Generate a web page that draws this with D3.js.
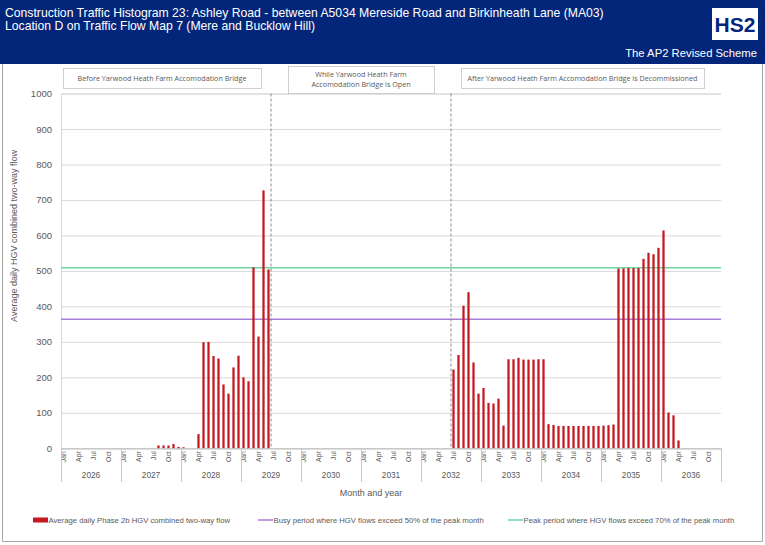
<!DOCTYPE html>
<html>
<head>
<meta charset="utf-8">
<script src="https://cdn.jsdelivr.net/npm/d3@7/dist/d3.min.js"></script>
<style>
  html, body { margin: 0; padding: 0; background: #fff; }
  svg { display: block; }
</style>
</head>
<body>
<svg id="chart" width="765" height="545"></svg>
<script>
// ---------- DATA ----------
const titleLines = [
  "Construction Traffic Histogram 23: Ashley Road - between A5034 Mereside Road and Birkinheath Lane (MA03)",
  "Location D on Traffic Flow Map 7 (Mere and Bucklow Hill)"
];
const subtitle = "The AP2 Revised Scheme";
const years = ["2026","2027","2028","2029","2030","2031","2032","2033","2034","2035","2036"];
const monthNames = ["Jan","Feb","Mar","Apr","May","Jun","Jul","Aug","Sep","Oct","Nov","Dec"];
const monthTickLabels = ["Jan","Apr","Jul","Oct"];
const yTicks = [0,100,200,300,400,500,600,700,800,900,1000];

// Average daily Phase 2b HGV combined two-way flow, one row per year (Jan..Dec)
const flow2026 = [0,0,0,0,0,0,0,0,0,0,0,0];
const flow2027 = [0,0,0,0,0,0,0,8,8,8,12,4];
const flow2028 = [3,0,0,40,299,300,260,253,180,154,228,261];
const flow2029 = [200,189,510,315,727,504,0,0,0,0,0,0];
const flow2030 = [0,0,0,0,0,0,0,0,0,0,0,0];
const flow2031 = [0,0,0,0,0,0,0,0,0,0,0,0];
const flow2032 = [0,0,0,0,0,0,222,263,402,440,242,154];
const flow2033 = [170,128,126,140,64,251,251,255,250,250,250,251];
const flow2034 = [251,68,66,63,63,63,63,63,63,63,63,63];
const flow2035 = [64,65,67,507,507,508,508,508,534,551,547,565];
const flow2036 = [614,101,93,22,0,0,0,0,0,0,0,0];
const flowByYear = [flow2026,flow2027,flow2028,flow2029,flow2030,flow2031,flow2032,flow2033,flow2034,flow2035,flow2036];

const busyLevel = 363.5;   // 50% of peak month
const peakLevel = 508.9;   // 70% of peak month

// phase dividers (month category at which each new phase starts)
const phaseStarts = [{year:"2029", month:"Jul"}, {year:"2032", month:"Jul"}];
const phaseLabels = [
  ["Before Yarwood Heath Farm Accomodation Bridge"],
  ["While Yarwood Heath Farm", "Accomodation Bridge is Open"],
  ["After Yarwood Heath Farm Accomodation Bridge is Decommissioned"]
];
const legendItems = [
  {label: "Average daily Phase 2b HGV combined two-way flow", type: "bar"},
  {label: "Busy period where HGV flows exceed 50% of the peak month", type: "busy"},
  {label: "Peak period where HGV flows exceed 70% of the peak month", type: "peak"}
];

// ---------- BUILD TABLE ----------
const rows = [];
years.forEach((y, yi) => monthNames.forEach((m, mi) => {
  rows.push({key: y + "-" + m, year: y, month: m, value: flowByYear[yi][mi]});
}));

// ---------- STYLE / LAYOUT ----------
const navy = "#04267a";
const barColor = "#c41920";
const busyColor = "#a67dd8";
const peakColor = "#6fd3a2";
const gridColor = "#d9d9d9";
const textGray = "#595959";
const font = "'Liberation Sans', Arial, sans-serif";
const boxFont = "'Open Sans', 'Noto Sans', sans-serif";

const svg = d3.select("#chart");
const plot = {left: 61, right: 721, top: 93.5, bottom: 448.3};

// header
svg.append("rect").attr("x",0).attr("y",0).attr("width",765).attr("height",64).attr("fill",navy);
svg.selectAll("text.title").data(titleLines).enter().append("text")
  .attr("class","title").attr("x",5).attr("y",(d,i)=>17 + i*13)
  .attr("fill","#fff").attr("font-family",font).attr("font-size",12.2).text(d=>d);
svg.append("text").attr("x",757).attr("y",57).attr("text-anchor","end")
  .attr("fill","#fff").attr("font-family",font).attr("font-size",11.3).text(subtitle);
svg.append("rect").attr("x",712).attr("y",8).attr("width",46).attr("height",32).attr("fill","#fff");
svg.append("text").attr("x",735).attr("y",32).attr("text-anchor","middle")
  .attr("fill",navy).attr("font-family",font).attr("font-weight","bold").attr("font-size",21).text("HS2");

// outer frame
svg.append("path").attr("d","M2.5,64 V541.5 H762.5 V64").attr("fill","none").attr("stroke","#a6a6a6").attr("stroke-width",1);

// scales
const x = d3.scaleBand().domain(rows.map(d=>d.key)).range([plot.left, plot.right]).paddingInner(0.55).paddingOuter(0.275);
const xStep = x.step();
const y = d3.scaleLinear().domain([0,1000]).range([plot.bottom, plot.top]);

// gridlines + y axis
const yAxis = d3.axisLeft(y).tickValues(yTicks).tickSize(-(plot.right-plot.left)).tickPadding(9).tickFormat(d3.format("d"));
const gy = svg.append("g").attr("transform",`translate(${plot.left},0)`).call(yAxis);
gy.select(".domain").attr("stroke",gridColor);
gy.selectAll(".tick line").attr("stroke",gridColor);
gy.selectAll(".tick text").attr("fill",textGray).attr("font-family",font).attr("font-size",9.5);

// y title
svg.append("text").attr("transform","translate(17,236) rotate(-90)").attr("text-anchor","middle")
  .attr("fill",textGray).attr("font-family",font).attr("font-size",9)
  .text("Average daily HGV combined two-way flow");

// threshold lines
svg.append("line").attr("x1",plot.left).attr("x2",plot.right).attr("y1",y(busyLevel)).attr("y2",y(busyLevel))
  .attr("stroke",busyColor).attr("stroke-width",1.5);
svg.append("line").attr("x1",plot.left).attr("x2",plot.right).attr("y1",y(peakLevel)).attr("y2",y(peakLevel))
  .attr("stroke",peakColor).attr("stroke-width",1.5);

// bars
svg.append("g").selectAll("rect").data(rows.filter(d=>d.value>0)).enter().append("rect")
  .attr("x",d=>x(d.key)).attr("width",x.bandwidth())
  .attr("y",d=>y(d.value)).attr("height",d=>y(0)-y(d.value))
  .attr("fill",barColor);

// phase divider dashed lines
phaseStarts.forEach(p => {
  const xx = x(p.year + "-" + p.month) - (xStep - x.bandwidth())/2;
  svg.append("line").attr("x1",xx).attr("x2",xx).attr("y1",plot.top).attr("y2",plot.bottom)
    .attr("stroke","#8c8c8c").attr("stroke-width",1).attr("stroke-dasharray","3,2");
});

// x axis line
svg.append("line").attr("x1",plot.left).attr("x2",plot.right).attr("y1",plot.bottom+0.5).attr("y2",plot.bottom+0.5)
  .attr("stroke","#bfbfbf");

// month tick labels
const xAxis = d3.axisBottom(x)
  .tickValues(rows.filter(d=>monthTickLabels.includes(d.month)).map(d=>d.key))
  .tickSize(0).tickFormat(k=>k.split("-")[1]);
const gx = svg.append("g").attr("transform",`translate(0,${plot.bottom})`).call(xAxis);
gx.select(".domain").remove();
gx.selectAll(".tick text").attr("transform","rotate(-90)").attr("text-anchor","end")
  .attr("x",-3).attr("y",0).attr("dy","0.35em")
  .attr("fill",textGray).attr("font-family",font).attr("font-size",6.8);

// year separators + labels
const yearBand = d3.scaleBand().domain(years).range([plot.left, plot.right]);
const sepX = years.map(yv => yearBand(yv)).concat([plot.right]);
svg.append("g").selectAll("line").data(sepX).enter().append("line")
  .attr("x1",d=>d+0.5).attr("x2",d=>d+0.5).attr("y1",plot.bottom).attr("y2",482)
  .attr("stroke","#c8c8c8");
svg.append("g").selectAll("text").data(years).enter().append("text")
  .attr("x",d=>yearBand(d)+yearBand.bandwidth()/2).attr("y",478).attr("text-anchor","middle")
  .attr("fill",textGray).attr("font-family",font).attr("font-size",8.3).text(d=>d);

// x title
svg.append("text").attr("x",371).attr("y",496).attr("text-anchor","middle")
  .attr("fill",textGray).attr("font-family",font).attr("font-size",9).text("Month and year");

// phase annotation boxes
const boxes = [
  {x0: 63, x1: 261, y0: 68, y1: 88},
  {x0: 288, x1: 434, y0: 66, y1: 93},
  {x0: 461, x1: 704, y0: 68, y1: 88}
];
boxes.forEach((b, i) => {
  svg.append("rect").attr("x",b.x0+0.5).attr("y",b.y0+0.5).attr("width",b.x1-b.x0).attr("height",b.y1-b.y0)
    .attr("fill","#fff").attr("stroke","#cfcfcf");
  const lines = phaseLabels[i];
  const cy = (b.y0+b.y1)/2;
  lines.forEach((t, j) => {
    svg.append("text").attr("x",(b.x0+b.x1)/2).attr("y",cy + (j-(lines.length-1)/2)*9.5)
      .attr("dy","0.35em").attr("text-anchor","middle")
      .attr("fill",textGray).attr("font-family",boxFont).attr("font-size",7.2).text(t);
  });
});

// legend
const legendX = [33, 258, 508];
const lg = svg.append("g");
legendItems.forEach((it, i) => {
  const lx = legendX[i], ly = 520;
  if (it.type === "bar") {
    lg.append("rect").attr("x",lx).attr("y",ly-2.5).attr("width",15).attr("height",5).attr("fill",barColor);
  } else {
    lg.append("line").attr("x1",lx).attr("x2",lx+15).attr("y1",ly).attr("y2",ly)
      .attr("stroke", it.type==="busy" ? busyColor : peakColor).attr("stroke-width",1.5);
  }
  lg.append("text").attr("x",lx+15.5).attr("y",ly).attr("dy","0.35em")
    .attr("fill",textGray).attr("font-family",font).attr("font-size",7.7).text(it.label);
});
</script>
</body>
</html>
